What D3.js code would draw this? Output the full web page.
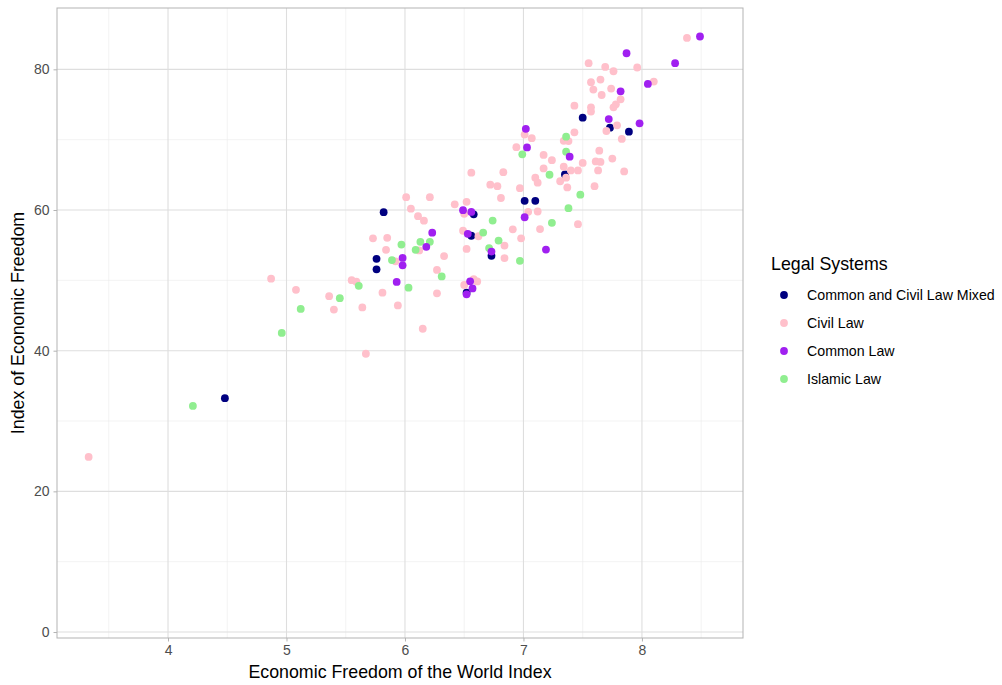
<!DOCTYPE html>
<html>
<head>
<meta charset="utf-8">
<script src="https://cdn.jsdelivr.net/npm/d3@7"></script>
<style>
  html, body { margin: 0; padding: 0; background: #ffffff; }
  svg { display: block; font-family: "Liberation Sans", Arial, Helvetica, sans-serif; }
</style>
</head>
<body>
<svg id="chart" width="1002" height="685"></svg>
<script>
// ---- Data ----
const legalSystems = ["Common and Civil Law Mixed", "Civil Law", "Common Law", "Islamic Law"];
const legalColors = ["#000080", "#FFC0CB", "#A020F0", "#90EE90"];

// [EFW index, Index of Economic Freedom]
const mixedLaw = [
  [4.48, 33.25], [5.82, 59.69], [5.76, 53.06], [5.76, 51.57], [6.58, 59.39],
  [6.56, 56.34], [6.73, 53.48], [6.52, 48.25], [7.01, 61.31], [7.10, 61.31],
  [7.35, 65.06], [7.50, 73.13], [7.73, 71.71], [7.89, 71.14]
];
const civilLaw = [
  [3.33, 24.89], [4.87, 50.24], [5.08, 48.65], [5.36, 47.75], [5.40, 45.85],
  [5.55, 50.03], [5.59, 49.81], [5.64, 46.15], [5.67, 39.56], [5.73, 55.97],
  [5.85, 56.05], [5.84, 54.34], [5.81, 48.25], [5.92, 52.71], [5.94, 46.44],
  [6.01, 61.82], [6.05, 60.19], [6.11, 59.12], [6.16, 58.48], [6.12, 54.26],
  [6.15, 43.12], [6.21, 61.82], [6.27, 51.48], [6.27, 48.15], [6.33, 53.45],
  [6.42, 60.81], [6.49, 57.05], [6.50, 59.46], [6.52, 61.17], [6.52, 54.47],
  [6.50, 49.34], [6.56, 65.31], [6.58, 50.17], [6.61, 49.84], [6.62, 56.27],
  [6.72, 63.60], [6.78, 63.39], [6.81, 61.71], [6.83, 65.38], [6.84, 54.94],
  [6.84, 53.16], [6.91, 57.26], [6.97, 63.11], [6.98, 55.98], [6.94, 68.93],
  [7.01, 70.73], [7.07, 70.21], [7.04, 59.74], [7.10, 64.59], [7.12, 63.89],
  [7.12, 59.79], [7.14, 57.29], [7.17, 65.91], [7.17, 67.83], [7.24, 67.09],
  [7.31, 64.09], [7.34, 69.83], [7.38, 69.80], [7.34, 66.15], [7.36, 64.59],
  [7.37, 63.21], [7.40, 65.63], [7.46, 65.63], [7.43, 74.84], [7.43, 71.04],
  [7.46, 57.98], [7.50, 66.70], [7.55, 80.87], [7.57, 78.16], [7.59, 77.12],
  [7.57, 74.60], [7.57, 74.00], [7.60, 63.39], [7.61, 66.91], [7.63, 65.63],
  [7.64, 68.43], [7.65, 66.84], [7.65, 78.55], [7.66, 76.35], [7.69, 80.34],
  [7.70, 71.23], [7.74, 77.26], [7.75, 67.31], [7.76, 74.60], [7.78, 75.03],
  [7.76, 79.73], [7.79, 72.04], [7.82, 75.74], [7.83, 70.11], [7.85, 65.48],
  [7.96, 80.26], [8.10, 78.26], [8.38, 84.47]
];
const commonLaw = [
  [5.93, 49.77], [5.98, 53.19], [5.98, 52.14], [6.18, 54.76], [6.23, 56.77],
  [6.49, 59.97], [6.56, 59.72], [6.53, 56.61], [6.55, 49.86], [6.57, 48.85],
  [6.52, 48.01], [6.73, 54.09], [7.01, 58.97], [7.02, 71.54], [7.03, 68.90],
  [7.19, 54.37], [7.39, 67.58], [7.72, 72.93], [7.82, 76.88], [7.87, 82.29],
  [7.98, 72.32], [8.05, 77.92], [8.28, 80.87], [8.49, 84.67]
];
const islamicLaw = [
  [4.21, 32.15], [4.96, 42.52], [5.12, 45.94], [5.45, 47.46], [5.61, 49.22],
  [5.89, 52.88], [5.97, 55.09], [6.03, 48.96], [6.09, 54.34], [6.13, 55.47],
  [6.21, 55.48], [6.31, 50.56], [6.66, 56.79], [6.71, 54.59], [6.74, 58.50],
  [6.79, 55.66], [6.97, 52.78], [6.99, 67.91], [7.22, 65.01], [7.24, 58.18],
  [7.36, 70.43], [7.36, 68.29], [7.38, 60.26], [7.48, 62.18]
];

const xTicks = [4, 5, 6, 7, 8];
const yTicks = [0, 20, 40, 60, 80];
const xMinor = [3.5, 4.5, 5.5, 6.5, 7.5, 8.5];
const yMinor = [10, 30, 50, 70];

const xTitle = "Economic Freedom of the World Index";
const yTitle = "Index of Economic Freedom";
const legendTitle = "Legal Systems";

// ---- Layout ----
const svg = d3.select("#chart");
const panel = { left: 57, right: 743, top: 8, bottom: 638 };

const x = d3.scaleLinear().domain([3.063, 8.853]).range([panel.left, panel.right]);
const y = d3.scaleLinear().domain([-0.85, 88.72]).range([panel.bottom, panel.top]);

const gridColor = "#ebebeb";
const gridMajor = "#dedede";
const borderColor = "#b3b3b3";

// minor grid
svg.append("g").selectAll("line").data(xMinor).join("line")
  .attr("x1", d => x(d)).attr("x2", d => x(d))
  .attr("y1", panel.top).attr("y2", panel.bottom)
  .attr("stroke", gridColor).attr("stroke-width", 0.6);
svg.append("g").selectAll("line").data(yMinor).join("line")
  .attr("y1", d => y(d)).attr("y2", d => y(d))
  .attr("x1", panel.left).attr("x2", panel.right)
  .attr("stroke", gridColor).attr("stroke-width", 0.6);
// major grid
svg.append("g").selectAll("line").data(xTicks).join("line")
  .attr("x1", d => x(d)).attr("x2", d => x(d))
  .attr("y1", panel.top).attr("y2", panel.bottom)
  .attr("stroke", gridMajor).attr("stroke-width", 1.1);
svg.append("g").selectAll("line").data(yTicks).join("line")
  .attr("y1", d => y(d)).attr("y2", d => y(d))
  .attr("x1", panel.left).attr("x2", panel.right)
  .attr("stroke", gridMajor).attr("stroke-width", 1.1);

// axes (ticks + labels) using d3 axes
const xAxis = d3.axisBottom(x).tickValues(xTicks).tickSize(3.5).tickPadding(4).tickFormat(d3.format("d"));
const yAxis = d3.axisLeft(y).tickValues(yTicks).tickSize(3.5).tickPadding(4).tickFormat(d3.format("d"));

const gx = svg.append("g").attr("transform", `translate(0,${panel.bottom})`).call(xAxis);
const gy = svg.append("g").attr("transform", `translate(${panel.left},0)`).call(yAxis);
[gx, gy].forEach(g => {
  g.select(".domain").remove();
  g.selectAll(".tick line").attr("stroke", borderColor).attr("stroke-width", 1);
  g.selectAll(".tick text").attr("fill", "#4d4d4d").style("font-size", "14px")
    .style("font-family", '"Liberation Sans", Arial, sans-serif');
});

// points
const series = [
  { name: legalSystems[0], color: legalColors[0], pts: mixedLaw },
  { name: legalSystems[1], color: legalColors[1], pts: civilLaw },
  { name: legalSystems[3], color: legalColors[3], pts: islamicLaw },
  { name: legalSystems[2], color: legalColors[2], pts: commonLaw }
];
series.forEach(s => {
  svg.append("g").selectAll("circle").data(s.pts).join("circle")
    .attr("cx", d => x(d[0])).attr("cy", d => y(d[1]))
    .attr("r", 3.9).attr("fill", s.color);
});

// panel border
svg.append("rect")
  .attr("x", panel.left).attr("y", panel.top)
  .attr("width", panel.right - panel.left).attr("height", panel.bottom - panel.top)
  .attr("fill", "none").attr("stroke", borderColor).attr("stroke-width", 1);

// axis titles
svg.append("text")
  .attr("x", (panel.left + panel.right) / 2).attr("y", 678)
  .attr("text-anchor", "middle").style("font-size", "17.8px").attr("fill", "#000")
  .text(xTitle);
svg.append("text")
  .attr("transform", `translate(24,${(panel.top + panel.bottom) / 2}) rotate(-90)`)
  .attr("text-anchor", "middle").style("font-size", "17.8px").attr("fill", "#000")
  .text(yTitle);

// legend
const lg = svg.append("g").attr("transform", "translate(771,0)");
lg.append("text").attr("x", 0).attr("y", 270).style("font-size", "17.8px").attr("fill", "#000")
  .text(legendTitle);
const items = lg.selectAll("g.item").data(legalSystems).join("g")
  .attr("class", "item")
  .attr("transform", (d, i) => `translate(0,${295 + i * 28})`);
items.append("circle").attr("cx", 13).attr("cy", 0).attr("r", 3.9)
  .attr("fill", (d, i) => legalColors[i]);
items.append("text").attr("x", 36).attr("y", 0).attr("dy", "0.35em")
  .style("font-size", "14.2px").attr("fill", "#000").text(d => d);
</script>
</body>
</html>
